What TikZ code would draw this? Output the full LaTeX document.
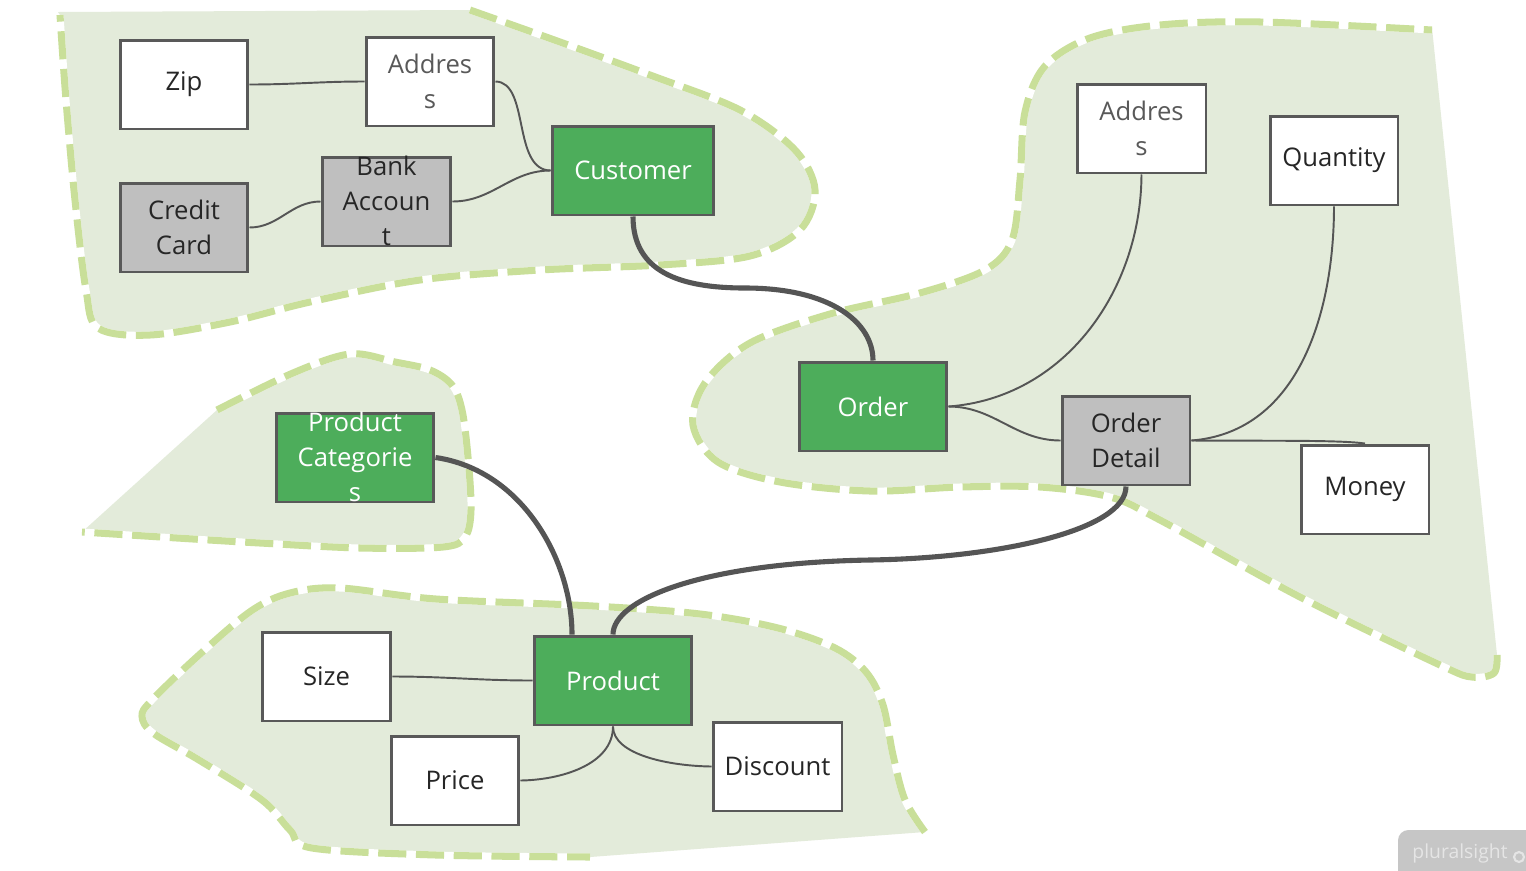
\documentclass[tikz,border=0pt]{standalone}
\usepackage{fontspec}
\setmainfont{Open Sans}
\usetikzlibrary{calc}
\definecolor{blobfill}{HTML}{E3EBDA}
\definecolor{blobdash}{HTML}{C9DF99}
\definecolor{boxline}{HTML}{595959}
\definecolor{greenfill}{HTML}{4DAD5B}
\definecolor{grayfill}{HTML}{BFBFBF}
\definecolor{conn}{HTML}{555555}
\definecolor{txt}{HTML}{262626}
\definecolor{txtgray}{HTML}{595959}
\newcommand{\ovltext}[1]{\raisebox{-0.32em}[0pt][0pt]{\begin{tabular}{@{}c@{}}#1\end{tabular}}}
\begin{document}
\begin{tikzpicture}[x=0.02cm,y=-0.02cm,
  entity/.style={draw=boxline, line width=1.7pt, minimum width=2.56cm, minimum height=1.78cm,
    inner sep=0pt, align=center, font=\fontsize{14.6}{19.8}\selectfont, text=txt, fill=white},
  whitebox/.style={entity},
  graybox/.style={entity, fill=grayfill},
  greenbox/.style={entity, fill=greenfill, text=white},
  thinconn/.style={draw=conn, line width=1.1pt},
  thickconn/.style={draw=conn, line width=2.9pt},
  regionfill/.style={fill=blobfill},
  regionhalo/.style={draw=white, line width=4pt},
  regionedge/.style={draw=blobdash, line width=4pt, dash pattern=on 16pt off 5.5pt}
]
\useasboundingbox (0,0) rectangle (1526,870);
\fill[white] (0,0) rectangle (1526,870);

% ---------- region 1 (top left) ----------
\fill[regionfill] (58,12) -- plot[smooth, tension=0.55] coordinates {(470,10) (560,42) (650,75) (740,110) (795,150) (815,190) (800,230) (750,256) (660,265) (540,270) (420,280) (310,302) (230,322) (150,335) (98,328) (86,290) (75,200) (66,100) (60,15)} -- cycle;
\foreach \s in {regionhalo,regionedge}{
\draw[\s] plot[smooth, tension=0.55] coordinates {(470,10) (560,42) (650,75) (740,110) (795,150) (815,190) (800,230) (750,256) (660,265) (540,270) (420,280) (310,302) (230,322) (150,335) (98,328) (86,290) (75,200) (66,100) (60,15)};
}

% ---------- region 2 (right) ----------
\fill[regionfill] (1432,28) -- plot[smooth, tension=0.55] coordinates {(1497,655) (1494,673) (1472,677) (1440,665) (1300,597) (1160,520) (1110,497) (1040,487) (960,487) (870,491) (780,482) (718,462) (693,425) (705,383) (750,343) (830,314) (920,293) (985,270) (1012,240) (1020,180) (1025,112) (1045,66) (1090,38) (1160,25) (1260,22) (1432,30)} -- cycle;
\foreach \s in {regionhalo,regionedge}{
\draw[\s] plot[smooth, tension=0.55] coordinates {(1497,655) (1494,673) (1472,677) (1440,665) (1300,597) (1160,520) (1110,497) (1040,487) (960,487) (870,491) (780,482) (718,462) (693,425) (705,383) (750,343) (830,314) (920,293) (985,270) (1012,240) (1020,180) (1025,112) (1045,66) (1090,38) (1160,25) (1260,22) (1432,30)};
}

% ---------- region 3 (product categories) ----------
\fill[regionfill] (82,532) -- plot[smooth, tension=0.55] coordinates {(217,410) (293,373) (350,354) (395,362) (430,370) (452,385) (462,410) (468,457) (471,510) (465,537) (443,547) (360,548) (260,543) (177,538) (82,532)} -- cycle;
\foreach \s in {regionhalo,regionedge}{
\draw[\s] plot[smooth, tension=0.55] coordinates {(217,410) (293,373) (350,354) (395,362) (430,370) (452,385) (462,410) (468,457) (471,510) (465,537) (443,547) (360,548) (260,543) (177,538) (82,532)};
}

% ---------- region 4 (bottom) ----------
\fill[regionfill] (590,857) -- plot[smooth, tension=0.55] coordinates {(925,832) (905,800) (893,755) (883,705) (866,672) (835,648) (778,628) (700,614) (593,606) (436,599) (340,588) (290,593) (251,611) (199,655) (152,700) (142,716) (153,733) (199,760) (262,800) (290,830) (312,848) (436,855) (590,857)} -- cycle;
\foreach \s in {regionhalo,regionedge}{
\draw[\s] plot[smooth, tension=0.55] coordinates {(925,832) (905,800) (893,755) (883,705) (866,672) (835,648) (778,628) (700,614) (593,606) (436,599) (340,588) (290,593) (251,611) (199,655) (152,700) (142,716) (153,733) (199,760) (262,800) (290,830) (312,848) (436,855) (590,857)};
}

% ---------- nodes ----------
\node[whitebox] (zip) at (184,84.5) {Zip};
\node[whitebox, text=txtgray] (addr1) at (430,81.5) {Addres\\s};
\node[graybox] (credit) at (184,227.5) {Credit\\Card};
\node[graybox, minimum width=2.58cm] (bank) at (386.5,201.5) {\ovltext{Bank\\Accoun\\t}};
\node[greenbox, minimum width=3.24cm] (customer) at (633,170.5) {Customer};
\node[whitebox, minimum width=2.58cm, text=txtgray] (addr2) at (1141.5,128.5) {Addres\\s};
\node[whitebox] (quantity) at (1334,160.5) {Quantity};
\node[greenbox, minimum width=2.96cm] (order) at (873,406.5) {Order};
\node[graybox] (detail) at (1126,440.5) {Order\\Detail};
\node[whitebox] (money) at (1365,489.5) {Money};
\node[greenbox, minimum width=3.16cm] (pcat) at (355,457.5) {\ovltext{Product\\Categorie\\s}};
\node[whitebox, minimum width=2.58cm] (size) at (326.5,676.5) {Size};
\node[greenbox, minimum width=3.16cm] (product) at (613,680.5) {Product};
\node[whitebox] (price) at (455,780.5) {Price};
\node[whitebox, minimum width=2.58cm] (discount) at (777.5,766.5) {Discount};

\coordinate (pcin) at ($(product.north)+(-41,0)$);

% ---------- connectors ----------
\draw[thinconn] (zip.east) to[out=0,in=180] (addr1.west);
\draw[thinconn] (addr1.east) .. controls (530,82) and (512,170) .. (customer.west);
\draw[thinconn] (bank.east) to[out=0,in=180] (customer.west);
\draw[thinconn] (credit.east) to[out=0,in=180] (bank.west);
\draw[thickconn] (customer.south) .. controls (633,272) and (680,288) .. (745,288) .. controls (830,288) and (873,322) .. (order.north);
\draw[thinconn] (order.east) .. controls (1065,398) and (1141,290) .. (addr2.south);
\draw[thinconn] (order.east) to[out=0,in=180] (detail.west);
\draw[thinconn] (detail.east) .. controls (1300,432) and (1334,310) .. (quantity.south);
\draw[thinconn] (detail.east) .. controls (1280,441) and (1340,440) .. (money.north);
\draw[thickconn] (detail.south) .. controls (1126,530) and (1000,558) .. (870,560) .. controls (700,563) and (613,600) .. (product.north);
\draw[thickconn] (pcat.east) .. controls (522,470) and (572,560) .. (pcin);
\draw[thinconn] (size.east) to[out=0,in=180] (product.west);
\draw[thinconn] (product.south) .. controls (613,765) and (560,780) .. (price.east);
\draw[thinconn] (product.south) .. controls (613,755) and (670,766) .. (discount.west);

% ---------- watermark ----------
\fill[gray!45, rounded corners=6pt] (1398,830) rectangle (1560,900);
\node[text=gray!20, font=\fontsize{11}{13}\selectfont, inner sep=0pt] (logo) at (1460,853) {pluralsight};
\draw[gray!20, line width=1.2pt] (1519,857) circle (5);
\end{tikzpicture}
\end{document}
